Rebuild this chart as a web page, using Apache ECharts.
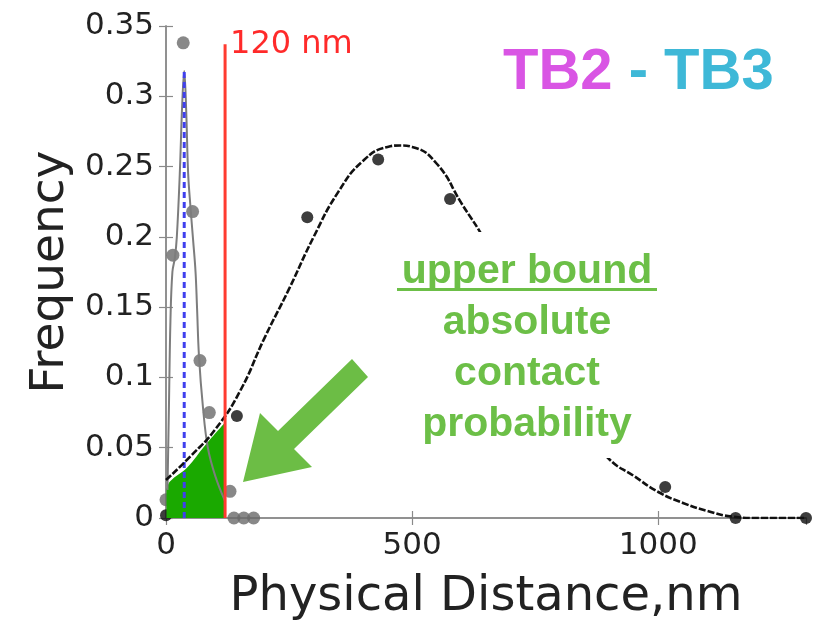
<!DOCTYPE html>
<html>
<head>
<meta charset="utf-8">
<script src="https://cdn.jsdelivr.net/npm/echarts@6.0.0/dist/echarts.min.js"></script>
<style>
  html, body { margin: 0; padding: 0; background: #ffffff; }
  #chart { width: 817px; height: 622px; }
</style>
</head>
<body>
<div id="chart"></div>
<script>
// Measured contact frequencies (nm, frequency)
const grayPointX = [0, 14, 35, 54, 69, 88, 130, 138, 158, 178];
const grayPointY = [0.013, 0.187, 0.338, 0.218, 0.112, 0.075, 0.019, 0, 0, 0];
const blackPointX = [0, 144, 287, 431, 577, 1014, 1157, 1300];
const blackPointY = [0.002, 0.0725, 0.214, 0.255, 0.227, 0.022, 0, 0];

// Fitted distributions
const grayFitX = [3, 6, 9, 13, 18, 22, 28, 33, 37, 41, 45, 50, 55, 60, 63, 67, 75, 85, 100, 120];
const grayFitY = [0.02, 0.08, 0.14, 0.175, 0.185, 0.2, 0.245, 0.295, 0.318, 0.29, 0.245, 0.22, 0.198, 0.175, 0.15, 0.115, 0.079, 0.05, 0.03, 0.012];
const blackFitX = [0, 50, 100, 150, 200, 250, 300, 350, 400, 450, 476, 500, 550, 600, 650, 700, 750, 800, 850, 900, 950, 1000, 1050, 1100, 1150, 1200, 1300];
const blackFitY = [0.027, 0.044, 0.063, 0.09, 0.128, 0.163, 0.2, 0.232, 0.254, 0.264, 0.265, 0.264, 0.252, 0.224, 0.196, 0.16, 0.125, 0.092, 0.065, 0.042, 0.03, 0.0185, 0.0107, 0.005, 0.001, 0, 0];

// Peak of the narrow fit, cutoff distance and the shaded region under the broad fit
const grayPeakX = 37;
const grayPeakY = 0.318;
const cutoffX = 120;
const cutoffTop = 0.337;
const shadeX = [1, 8, 43, 80, 120];
const shadeY = [0.02, 0.026, 0.036, 0.052, 0.068];

// Axis ticks
const xTicks = { min: 0, max: 1300, step: 500 };
const yTicks = { min: 0, max: 0.35, step: 0.05 };

const zip = (xs, ys) => xs.map((x, i) => [x, ys[i]]);

const tickFont = { fontFamily: 'DejaVu Sans', fontSize: 31, color: '#222222' };
const axisGray = '#8a8a8a';
const green = '#6cbf47';

const chart = echarts.init(document.getElementById('chart'), null, { renderer: 'canvas' });

const baseX = {
  type: 'value', min: xTicks.min, max: xTicks.max, interval: xTicks.step,
  splitLine: { show: false },
  axisLine: { show: true, lineStyle: { color: axisGray, width: 1.5 } },
  axisTick: { show: true, inside: true, length: 7, lineStyle: { color: axisGray, width: 1.2 } }
};
const baseY = {
  type: 'value', min: yTicks.min, max: yTicks.max, interval: yTicks.step,
  splitLine: { show: false },
  axisLine: { show: true, lineStyle: { color: axisGray, width: 1.5 } },
  axisTick: { show: true, inside: true, length: 7, lineStyle: { color: axisGray, width: 1.2 } }
};

const greenLine = (text, y) => ({
  type: 'text', z: 51, x: 527, y: y,
  style: {
    text: text, font: 'bold 41px "Liberation Sans"', fill: green,
    textAlign: 'center', textVerticalAlign: 'middle', align: 'center', verticalAlign: 'middle'
  }
});

const option = {
  backgroundColor: '#ffffff',
  animation: false,
  grid: { left: 166, right: 11, top: 26, bottom: 104, containLabel: false, outerBoundsMode: 'none' },
  title: {
    text: '{a|TB2 }{b|- TB3}',
    left: 498, top: 39,
    textStyle: {
      rich: {
        a: { fontFamily: 'Liberation Sans', fontWeight: 'bold', fontSize: 58, color: '#d955e4', lineHeight: 58 },
        b: { fontFamily: 'Liberation Sans', fontWeight: 'bold', fontSize: 58, color: '#3eb8d7', lineHeight: 58 }
      }
    }
  },
  xAxis: [
    Object.assign({}, baseX, {
      position: 'bottom',
      name: 'Physical Distance,nm', nameLocation: 'middle', nameGap: 56,
      nameTextStyle: { fontFamily: 'DejaVu Sans', fontSize: 48, color: '#222222' },
      axisLabel: Object.assign({ margin: 12, showMaxLabel: false, formatter: v => String(v) }, tickFont)
    }),
    Object.assign({}, baseX, { position: 'top', axisLabel: { show: false } })
  ],
  yAxis: [
    Object.assign({}, baseY, {
      position: 'left',
      name: 'Frequency', nameLocation: 'middle', nameGap: 76,
      nameTextStyle: { fontFamily: 'DejaVu Sans', fontSize: 47, color: '#222222' },
      axisLabel: Object.assign({ margin: 12, formatter: v => String(v) }, tickFont)
    }),
    Object.assign({}, baseY, { position: 'right', axisLabel: { show: false } })
  ],
  series: [
    {
      name: 'narrow fit', type: 'line', smooth: 0.4, showSymbol: false,
      data: zip(grayFitX, grayFitY),
      lineStyle: { color: '#7d7d7d', width: 2 }
    },
    {
      name: 'narrow peak', type: 'line', showSymbol: false,
      data: [[grayPeakX, 0], [grayPeakX, grayPeakY]],
      lineStyle: { color: '#4040ee', width: 3, type: [6, 4] }
    },
    {
      name: 'broad fit', type: 'line', smooth: 0.5, showSymbol: false,
      data: zip(blackFitX, blackFitY),
      lineStyle: { color: '#111111', width: 2.6, type: [7, 2] }
    },
    {
      name: 'narrow data', type: 'scatter', symbolSize: 13,
      data: zip(grayPointX, grayPointY),
      itemStyle: { color: '#6a6a6a' }
    },
    {
      name: 'broad data', type: 'scatter', symbolSize: 12,
      data: zip(blackPointX, blackPointY),
      itemStyle: { color: '#0c0c0c' }
    },
    {
      name: 'contact area', type: 'line', smooth: 0.4, showSymbol: false,
      data: zip(shadeX, shadeY),
      lineStyle: { width: 0 },
      areaStyle: { color: '#1aa900', opacity: 1 }
    },
    {
      name: 'cutoff', type: 'line', showSymbol: false,
      data: [[cutoffX, 0], [cutoffX, cutoffTop]],
      lineStyle: { color: '#ff3b30', width: 3 },
      endLabel: {
        show: true, formatter: cutoffX + ' nm', distance: 5,
        fontFamily: 'DejaVu Sans', fontSize: 32, color: '#ff2a2a'
      }
    }
  ],
  graphic: [
    { type: 'rect', z: 50, shape: { x: 385, y: 232, width: 287, height: 226 }, style: { fill: '#ffffff' } },
    greenLine('upper bound', 272),
    { type: 'rect', z: 51, shape: { x: 397, y: 288, width: 260, height: 3 }, style: { fill: green } },
    greenLine('absolute', 323),
    greenLine('contact', 374),
    greenLine('probability', 425),
    {
      type: 'polygon', z: 52,
      shape: { points: [[243, 482], [260, 413], [278, 431], [352, 359], [368, 377], [294, 449], [312, 467]] },
      style: { fill: '#6cbd45' }
    }
  ]
};

chart.setOption(option);
</script>
</body>
</html>
